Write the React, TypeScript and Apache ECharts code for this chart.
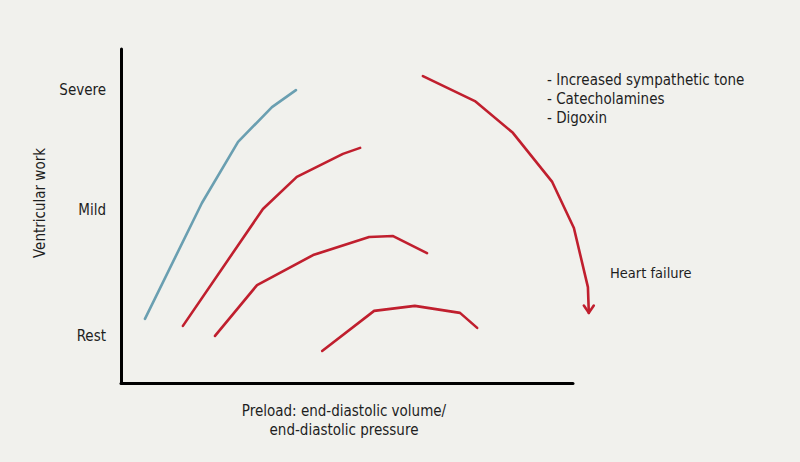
import React, { useEffect, useRef } from "react";
import * as echarts from "echarts";

// Frank-Starling style curves (data space: x 0-100 preload, y 0-100 work)
const blueCurve: [number, number][] = [
  [5.3, 19.2], [17.9, 53.9], [25.9, 72.2], [33.4, 82.6], [38.7, 87.7],
];
const redCurve1: [number, number][] = [
  [13.7, 17.1], [31.4, 52.1], [38.9, 61.7], [49.1, 68.6], [52.9, 70.4],
];
const redCurve2: [number, number][] = [
  [20.8, 14.1], [30.1, 29.3], [42.5, 38.3], [54.9, 43.7], [60.2, 44.0], [67.7, 38.9],
];
const redCurve3: [number, number][] = [
  [44.5, 9.6], [56.0, 21.6], [65.0, 23.1], [75.0, 21.0], [78.8, 16.5],
];
const failureArrow: [number, number][] = [
  [66.8, 91.9], [78.3, 84.4], [86.7, 74.9], [95.4, 60.2], [100.2, 46.4], [103.3, 28.7], [103.5, 21.0],
];
const arrowHead: [number, number][] = [
  [102.4, 23.2], [103.5, 21.0], [104.6, 23.2],
];

const yLevels = [14.1, 51.8, 87.7];
const yLevelNames = ["Rest", "Mild", "Severe"];

const notes = ["- Increased sympathetic tone", "- Catecholamines", "- Digoxin"];
const failureLabel = "Heart failure";
const xTitle = ["Preload: end-diastolic volume/", "end-diastolic pressure"];
const yTitle = "Ventricular work";

const FONT = "'Liberation Sans Narrow', 'DejaVu Sans Condensed', 'Open Sans', sans-serif";
const RED = "#c01f2e";
const BLUE = "#6a9fb1";
const TEXT = "#1e1e1e";

const PLOT_LEFT = 121;
const PLOT_RIGHT = 227;
const PLOT_W = 800 - PLOT_LEFT - PLOT_RIGHT;
const EXT_MAX = 110;

export default function App() {
  const ref = useRef<HTMLDivElement>(null);
  useEffect(() => {
    if (!ref.current) return;
    const chart = echarts.init(ref.current, null, { renderer: "svg" });
    const lineSeries = (data: [number, number][], color: string, axis = 0, width = 2.6) => ({
      type: "line",
      data,
      xAxisIndex: axis,
      yAxisIndex: axis,
      symbol: "none",
      clip: false,
      lineStyle: { color, width, cap: "round", join: "round" },
      silent: true,
    });
    chart.setOption({
      animation: false,
      backgroundColor: "#f1f1ed",
      textStyle: { fontFamily: FONT },
      grid: [
        { left: PLOT_LEFT, right: PLOT_RIGHT, top: 49, bottom: 79 },
        {
          left: PLOT_LEFT,
          right: 800 - PLOT_LEFT - (PLOT_W * EXT_MAX) / 100,
          top: 49,
          bottom: 79,
        },
      ],
      xAxis: [
        {
          type: "value",
          gridIndex: 0,
          min: 0,
          max: 100,
          axisLine: { show: true, lineStyle: { color: "#000", width: 3 } },
          axisTick: { show: false },
          axisLabel: { show: false },
          splitLine: { show: false },
        },
        {
          type: "value",
          gridIndex: 1,
          min: 0,
          max: EXT_MAX,
          show: false,
        },
      ],
      yAxis: [
        {
          type: "value",
          gridIndex: 0,
          min: 0,
          max: 100,
          axisLine: { show: true, lineStyle: { color: "#000", width: 3 } },
          axisTick: { show: false },
          splitLine: { show: false },
          axisLabel: {
            show: true,
            customValues: yLevels,
            margin: 15,
            fontSize: 15,
            color: TEXT,
            fontFamily: FONT,
            formatter: (v: number) => {
              const i = yLevels.findIndex((l) => Math.abs(l - v) < 0.01);
              return i >= 0 ? yLevelNames[i] : "";
            },
          },
        },
        {
          type: "value",
          gridIndex: 1,
          min: 0,
          max: 100,
          show: false,
        },
      ],
      series: [
        lineSeries(blueCurve, BLUE),
        lineSeries(redCurve1, RED),
        lineSeries(redCurve2, RED),
        lineSeries(redCurve3, RED),
        lineSeries(failureArrow, RED, 1),
        lineSeries(arrowHead, RED, 1),
      ],
      graphic: [
        {
          type: "text",
          x: 40,
          y: 203,
          rotation: Math.PI / 2,
          style: {
            text: yTitle,
            fontSize: 15,
            fontFamily: FONT,
            fill: TEXT,
            align: "center",
            verticalAlign: "middle",
          },
        },
        {
          type: "text",
          x: 344,
          y: 401,
          style: {
            text: xTitle.join("\n"),
            fontSize: 15,
            lineHeight: 19,
            fontFamily: FONT,
            fill: TEXT,
            align: "center",
            verticalAlign: "top",
          },
        },
        {
          type: "text",
          x: 547,
          y: 70,
          style: {
            text: notes.join("\n"),
            fontSize: 15,
            lineHeight: 19,
            fontFamily: FONT,
            fill: TEXT,
            align: "left",
            verticalAlign: "top",
          },
        },
        {
          type: "text",
          x: 610,
          y: 273,
          style: {
            text: failureLabel,
            fontSize: 14.5,
            fontFamily: FONT,
            fill: TEXT,
            align: "left",
            verticalAlign: "middle",
          },
        },
      ],
    });
    return () => chart.dispose();
  }, []);
  return (
    <div
      ref={ref}
      style={{ position: "absolute", left: 0, top: 0, width: 800, height: 462 }}
    />
  );
}
